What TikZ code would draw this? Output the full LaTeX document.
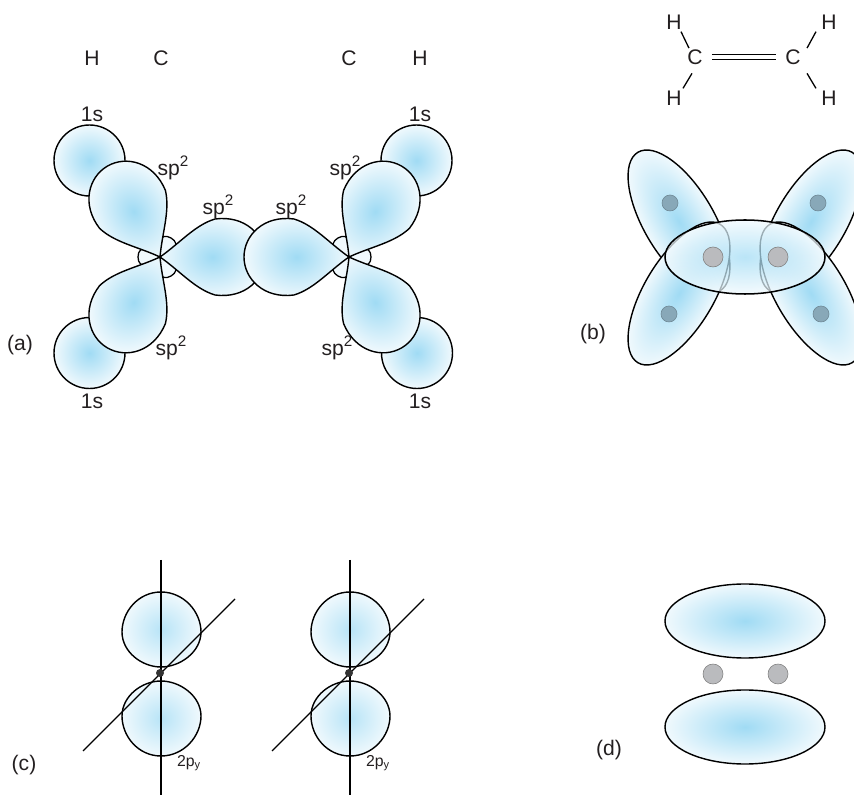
\documentclass[tikz,border=0pt]{standalone}
\usepackage{fontspec}
\setmainfont{Liberation Sans}
\usepackage{tikz}
\definecolor{orbcore}{RGB}{160, 219, 244}
\definecolor{orbedge}{RGB}{240, 249, 253}
\definecolor{inktext}{RGB}{35, 31, 32}
\definecolor{atomgray}{RGB}{186, 187, 190}
\definecolor{atomblue}{RGB}{136, 168, 184}
\tikzset{
    orb/.style={inner color=orbcore, outer color=orbedge, draw=black, line width=1.2pt},
    porb/.style={inner color=orbcore!70!orbedge, outer color=orbedge, draw=black, line width=1.2pt},
    backlobe/.style={fill=orbedge, draw=black, line width=1.1pt},
    bond/.style={draw=black, line width=1.1pt},
    axisline/.style={draw=black, line width=1.1pt},
    lbl/.style={font=\fontsize{18}{20}\selectfont, text=inktext, inner sep=1pt},
    smalllbl/.style={font=\fontsize{13.5}{15}\selectfont, text=inktext, inner sep=1pt},
    atom/.style={fill=atomgray, draw=gray, line width=0.5pt},
    atomb/.style={fill=atomblue, draw=atomblue!80!black, line width=0.5pt}
}
\newcommand{\spsq}{sp\raisebox{0.42em}{\fontsize{13}{13}\selectfont 2}}
% sp2 lobe: apex at (#1,#2), pointing along angle #3
\newcommand{\bigsp}[3]{
    \shade[orb, transform canvas={shift={(#1,#2)},rotate=#3}] (0,0)
        .. controls (20,14) and (35,32) .. (55,38)
        .. controls (85,42) and (105,22) .. (105,0)
        .. controls (105,-22) and (85,-42) .. (55,-38)
        .. controls (35,-32) and (20,-14) .. (0,0) -- cycle;
}
\newcommand{\smallsp}[3]{
    \draw[backlobe, transform canvas={shift={(#1,#2)},rotate=#3}] (0,0)
        .. controls (7,10) and (22,13) .. (22,0)
        .. controls (22,-13) and (7,-10) .. (0,0) -- cycle;
}
% 2p orbital around the centre (#1,674)
\newcommand{\ptwo}[1]{
    \foreach \s in {1,-1} {
        \shade[porb] (#1,{674+\s*82})
            .. controls (#1+23,{674+\s*82}) and (#1+40,{674+\s*62}) .. (#1+40,{674+\s*42})
            .. controls (#1+40,{674+\s*22}) and (#1+19,{674+\s*7}) .. (#1,{674+\s*7})
            .. controls (#1-19,{674+\s*7}) and (#1-39,{674+\s*22}) .. (#1-39,{674+\s*42})
            .. controls (#1-39,{674+\s*62}) and (#1-23,{674+\s*82}) .. (#1,{674+\s*82}) -- cycle;
    }
}

\begin{document}
\begin{tikzpicture}[x=0.03cm, y=-0.03cm]
    \clip (0,0) rectangle (854,795);

    % (a) small back lobes
    \foreach \rot in {180,60,-60} {
        \smallsp{160}{257}{\rot}
    }
    \foreach \rot in {0,120,-120} {
        \smallsp{349}{257}{\rot}
    }

    % (a) hydrogen 1s
    \foreach \x/\y in {89.5/160.5, 89.5/353, 416.5/160.5, 417/353} {
        \shade[orb] (\x,\y) circle [radius=35.5];
    }

    % (a) sp2 lobes
    \bigsp{160}{257}{0}
    \bigsp{160}{257}{120}
    \bigsp{160}{257}{-120}
    \bigsp{349}{257}{180}
    \bigsp{349}{257}{60}
    \bigsp{349}{257}{-60}

    % (a) labels
    \foreach \x/\y/\txt/\nm in {92/58/H/labHa, 161/58/C/labCa, 349/58/C/labCb, 420/58/H/labHb,
        92/114/1s/labSa, 92/401/1s/labSb, 420/114/1s/labSc, 420/401/1s/labSd,
        20/345/(a)/labA, 593/334/(b)/labB, 24/765/(c)/labC, 609/750/(d)/labD} {
        \node[lbl] (\nm) at (\x,\y) {\txt};
    }
    \foreach \x/\y/\nm in {173/168/labPa, 171/348/labPb, 218/207/labPc, 291/207/labPd, 345/168/labPe, 337/348/labPf} {
        \node[lbl] (\nm) at (\x,\y) {\spsq};
    }

    % formula
    \node[lbl] (hTL) at (674,22) {H};
    \node[lbl] (hBL) at (674,98) {H};
    \node[lbl] (hTR) at (829,22) {H};
    \node[lbl] (hBR) at (829,98) {H};
    \node[lbl] (cL) at (695,57) {C};
    \node[lbl] (cR) at (793,57) {C};
    \draw[bond] ([shift={(3,0)}]cL.north west) -- ([shift={(-2,1)}]hTL.south east);
    \draw[bond] ([shift={(6,7.5)}]cL.south west) -- ([shift={(0,-1)}]hBL.north east);
    \draw[bond] ([shift={(5,0)}]cR.north east) -- ([shift={(-4,1)}]hTR.south west);
    \draw[bond] ([shift={(5,7.5)}]cR.south east) -- ([shift={(-4,-1)}]hBR.north west);
    \draw[bond, line width=1.2pt, double, double distance=3pt, shorten <=6.8pt, shorten >=6.8pt] (cL) -- (cR);

    % (b) side lobes
    \foreach \x/\y/\rot in {679/221.5/-59.3, 811/221.5/59.3, 679/293.5/59.3, 811/293.5/-59.3} {
        \shade[orb, transform canvas={shift={(\x,\y)},rotate=\rot}] (0,0) ellipse [x radius=80.5, y radius=35];
    }

    % (b) central lobe
    \shade[inner color=orbcore, outer color=orbedge, fill opacity=0.72] (745,257) ellipse [x radius=80, y radius=37];
    \draw[line width=1.3pt] (745,257) ellipse [x radius=80, y radius=37];
    \foreach \x/\y in {670/203, 818/203, 669/314, 821/314} {
        \filldraw[atomb] (\x,\y) circle [radius=8];
    }
    \foreach \x in {713,778} {
        \filldraw[atom] (\x,257) circle [radius=10];
    }

    % (c) 2p orbitals
    \foreach \x in {161,350} {
        \ptwo{\x}
        \draw[axisline] (\x,560) -- (\x,795);
        \draw[axisline] (\x-78,751) -- (\x+74,599);
        \fill[black!80] (\x-1,673) circle [radius=4];
    }
    \node[smalllbl] (labPyA) at (189,763) {2p\textsubscript{y}};
    \node[smalllbl] (labPyB) at (378,763) {2p\textsubscript{y}};

    % (d) pi lobes
    \foreach \y in {621,727} {
        \shade[orb] (745,\y) ellipse [x radius=80, y radius=37];
    }
    \foreach \x in {713,778} {
        \filldraw[atom] (\x,674) circle [radius=10];
    }
\end{tikzpicture}
\end{document}
